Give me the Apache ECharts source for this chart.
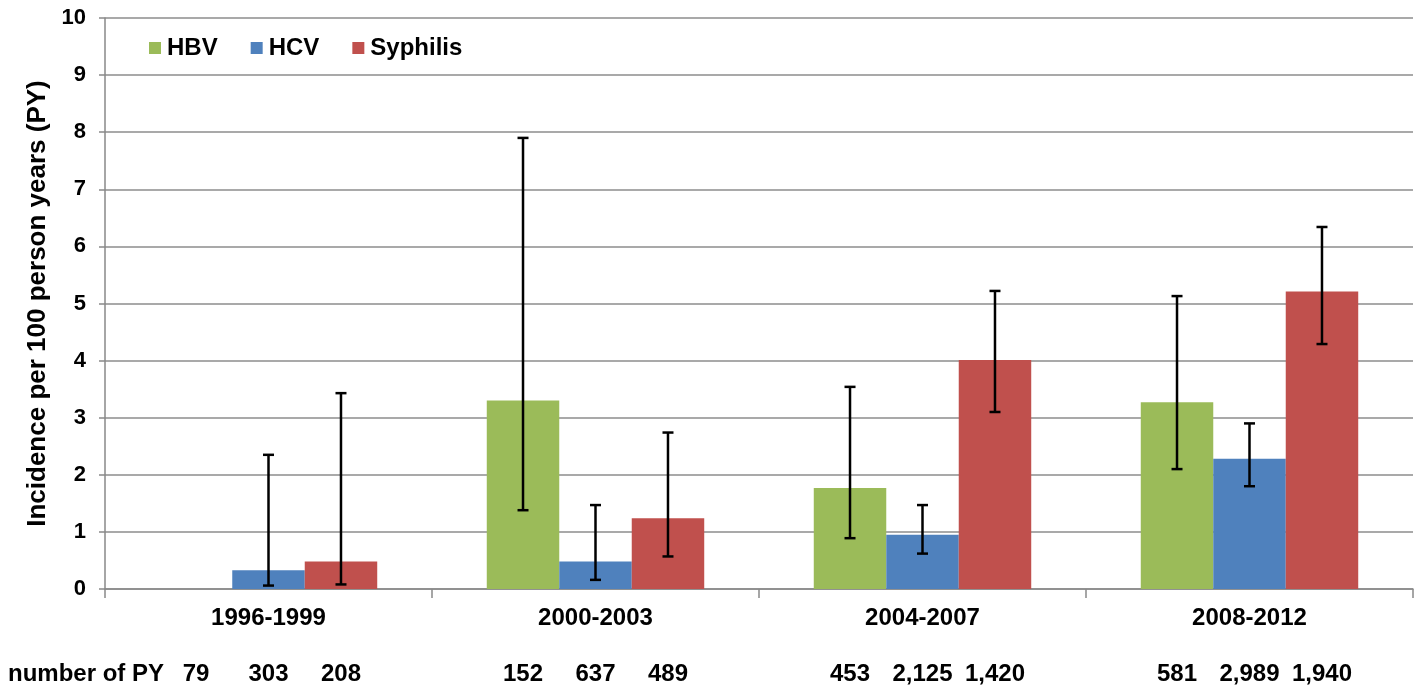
<!DOCTYPE html>
<html>
<head>
<meta charset="utf-8">
<script src="https://cdn.jsdelivr.net/npm/echarts@6/dist/echarts.min.js"></script>
<style>
html,body{margin:0;padding:0;background:#fff;}
#chart{width:1419px;height:688px;}
</style>
</head>
<body>
<div id="chart"></div>
<script>
const categories = ['1996-1999', '2000-2003', '2004-2007', '2008-2012'];
const seriesNames = ['HBV', 'HCV', 'Syphilis'];
const hbv = [0, 3.30, 1.77, 3.27];
const hcv = [0.33, 0.48, 0.95, 2.28];
const syphilis = [0.48, 1.24, 4.01, 5.21];
const hbvLow = [null, 1.38, 0.89, 2.10];
const hbvHigh = [null, 7.90, 3.54, 5.13];
const hcvLow = [0.06, 0.16, 0.62, 1.80];
const hcvHigh = [2.35, 1.47, 1.47, 2.90];
const syphLow = [0.08, 0.57, 3.10, 4.29];
const syphHigh = [3.43, 2.74, 5.22, 6.34];
const hbvPY = ['79', '152', '453', '581'];
const hcvPY = ['303', '637', '2,125', '2,989'];
const syphPY = ['208', '489', '1,420', '1,940'];
const yTicks = [0, 1, 2, 3, 4, 5, 6, 7, 8, 9, 10];

const colors = ['#9BBB59', '#4F81BD', '#C0504D'];
const values = [hbv, hcv, syphilis];
const lows = [hbvLow, hcvLow, syphLow];
const highs = [hbvHigh, hcvHigh, syphHigh];
const pys = [hbvPY, hcvPY, syphPY];
const CAT_GAP = 0.335;
const FONT = 'Liberation Sans, Arial, sans-serif';

const chart = echarts.init(document.getElementById('chart'));

const barSeries = seriesNames.map((name, i) => ({
  name: name,
  type: 'bar',
  barGap: '0%',
  barCategoryGap: (CAT_GAP * 100) + '%',
  data: values[i],
  itemStyle: { color: colors[i] },
  label: {
    show: true,
    position: 'bottom',
    distance: 73,
    formatter: p => pys[i][p.dataIndex],
    color: '#000',
    fontFamily: FONT,
    fontWeight: 'bold',
    fontSize: 24,
    lineHeight: 24
  },
  emphasis: { disabled: true },
  z: 2
}));

const errSeries = seriesNames.map((name, i) => ({
  name: name + ' CI',
  type: 'custom',
  z: 5,
  silent: true,
  data: categories.map((c, k) => [k, lows[i][k], highs[i][k]]).filter(d => d[1] !== null),
  encode: { x: 0, y: [1, 2] },
  renderItem: function (params, api) {
    const k = api.value(0);
    const lo = api.coord([k, api.value(1)]);
    const hi = api.coord([k, api.value(2)]);
    const band = api.size([1, 0])[0];
    const bw = band * (1 - CAT_GAP) / 3;
    const x = lo[0] + (i - 1) * bw;
    const cap = 5.5;
    const st = { stroke: '#000', lineWidth: 2.5 };
    return {
      type: 'group',
      children: [
        { type: 'line', shape: { x1: x, y1: hi[1], x2: x, y2: lo[1] }, style: st },
        { type: 'line', shape: { x1: x - cap, y1: hi[1], x2: x + cap, y2: hi[1] }, style: st },
        { type: 'line', shape: { x1: x - cap, y1: lo[1], x2: x + cap, y2: lo[1] }, style: st }
      ]
    };
  }
}));

chart.setOption({
  animation: false,
  backgroundColor: '#fff',
  grid: { left: 105, right: 6, top: 18, bottom: 99, containLabel: false },
  legend: {
    data: seriesNames,
    left: 149,
    top: 36,
    padding: 0,
    itemWidth: 12,
    itemHeight: 12,
    itemGap: 33,
    textStyle: { fontFamily: FONT, fontWeight: 'bold', fontSize: 24, color: '#000', padding: [0, 0, 0, 1] },
    icon: 'rect',
    selectedMode: false
  },
  xAxis: {
    type: 'category',
    data: categories,
    axisLine: { lineStyle: { color: '#898989', width: 1.5 } },
    axisTick: { show: true, length: 9, lineStyle: { color: '#898989', width: 1.5 } },
    axisLabel: { color: '#000', fontFamily: FONT, fontWeight: 'bold', fontSize: 24, margin: 17 },
    splitLine: { show: false }
  },
  yAxis: {
    type: 'value',
    min: yTicks[0],
    max: yTicks[yTicks.length - 1],
    interval: 1,
    name: 'Incidence per 100 person years (PY)',
    nameLocation: 'middle',
    nameGap: 53,
    nameTextStyle: { color: '#000', fontFamily: FONT, fontWeight: 'bold', fontSize: 26 },
    axisLine: { show: true, lineStyle: { color: '#898989', width: 1.5 } },
    axisTick: { show: true, length: 6, lineStyle: { color: '#898989', width: 1.5 } },
    axisLabel: { color: '#000', fontFamily: FONT, fontWeight: 'bold', fontSize: 22, margin: 19 },
    splitLine: { show: true, lineStyle: { color: '#8c8c8c', width: 1.5 } }
  },
  graphic: [{
    type: 'text',
    left: 8,
    top: 662,
    style: { text: 'number of PY', fill: '#000', font: 'bold 24px ' + FONT }
  }],
  series: barSeries.concat(errSeries)
});
</script>
</body>
</html>
